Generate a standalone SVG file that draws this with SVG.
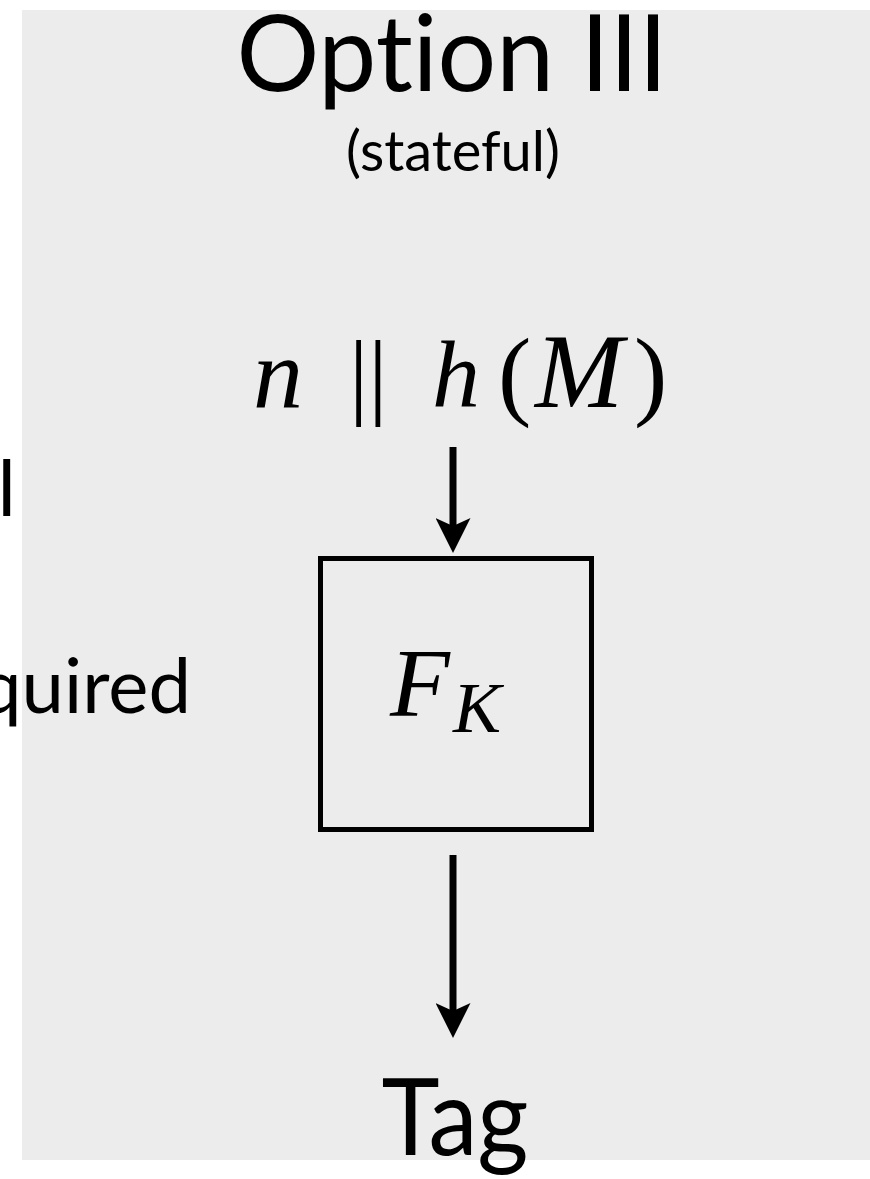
<svg xmlns="http://www.w3.org/2000/svg" width="870" height="1179" viewBox="0 0 870 1179">
  <style>
    .sans { font-family: Lato, "Open Sans", "Liberation Sans", sans-serif; fill: #000; font-variant-ligatures: none; font-feature-settings: "liga" 0; }
    .math { font-family: "Liberation Serif", "DejaVu Serif", serif; fill: #000; }
    .it { font-style: italic; }
    .conn { stroke: #000; stroke-width: 7; fill: none; }
  </style>
  <defs>
    <marker id="head" markerUnits="userSpaceOnUse" viewBox="0 -17.5 35 35" refX="15" refY="0" markerWidth="35" markerHeight="35" orient="auto">
      <path d="M0,-17.5 L35,0 L0,17.5 L8,0 Z" fill="#000"/>
    </marker>
  </defs>
  <rect x="0" y="0" width="870" height="1179" fill="#ffffff"/>
  <rect id="panel" x="22" y="10" width="848" height="1150" fill="#ececec"/>

  <g id="left-fragments">
    <text class="sans" x="16" y="516" font-size="78" text-anchor="end">l</text>
    <text class="sans" x="191" y="713" font-size="76" text-anchor="end">quired</text>
  </g>

  <g id="title">
    <text class="sans" x="452" y="91" font-size="107" text-anchor="middle" textLength="431" lengthAdjust="spacingAndGlyphs">Option III</text>
    <text class="sans" x="453" y="171" font-size="56" text-anchor="middle">(stateful)</text>
  </g>

  <g id="input">
    <text class="math it" x="253" y="407" font-size="100">n</text>
    <text class="math" x="349" y="407" font-size="96">||</text>
    <text class="math it" x="432" y="407" font-size="96">h</text>
    <text class="math" x="498" y="407" font-size="100">(</text>
    <text class="math it" x="535" y="407" font-size="106">M</text>
    <text class="math" x="634" y="407" font-size="100">)</text>
  </g>

  <g id="fk-box">
    <rect x="320.5" y="558.5" width="271" height="271" fill="none" stroke="#000" stroke-width="5"/>
    <text class="math it" x="390" y="716" font-size="98">F</text>
    <text class="math it" x="453" y="732" font-size="72">K</text>
  </g>

  <g id="tag">
    <text class="sans" x="455" y="1155" font-size="106" text-anchor="middle" textLength="147" lengthAdjust="spacingAndGlyphs">Tag</text>
  </g>

  <g id="connectors">
    <line class="conn" x1="453" y1="447" x2="453" y2="533" marker-end="url(#head)"/>
    <line class="conn" x1="453" y1="855" x2="453" y2="1018" marker-end="url(#head)"/>
  </g>
</svg>
